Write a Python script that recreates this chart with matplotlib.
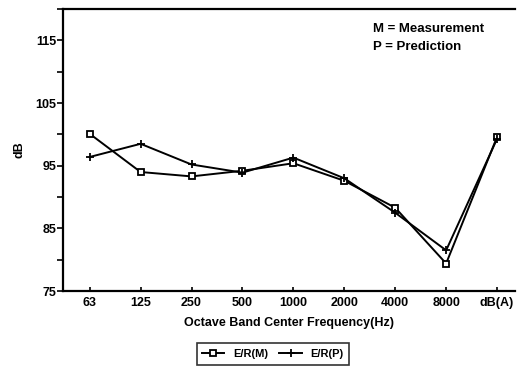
import matplotlib
matplotlib.use("Agg")
import matplotlib.pyplot as plt
from matplotlib.ticker import MultipleLocator

bands = ["63", "125", "250", "500", "1000", "2000", "4000", "8000", "dB(A)"]
er_measured = [100.1, 94.0, 93.3, 94.2, 95.4, 92.6, 88.3, 79.4, 99.6]
er_predicted = [96.4, 98.5, 95.2, 93.9, 96.3, 93.0, 87.5, 81.5, 99.3]

plt.rcParams["font.family"] = ["Liberation Sans", "DejaVu Sans"]
plt.rcParams["font.weight"] = "bold"

fig = plt.figure(figsize=(5.18, 3.79), dpi=100)
ax = fig.add_axes([0.122, 0.232, 0.872, 0.744])

x = list(range(len(bands)))
ax.plot(x, er_measured, color="black", linewidth=1.4, marker="s", markersize=4.5,
        markerfacecolor="white", markeredgecolor="black", markeredgewidth=1.3,
        label="E/R(M)")
ax.plot(x, er_predicted, color="black", linewidth=1.4, marker="+", markersize=6,
        markeredgewidth=1.3, label="E/R(P)")

ax.set_xlim(-0.52, 8.35)
ax.set_ylim(75, 120)
ax.set_xticks(x)
ax.set_xticklabels(bands)
ax.set_yticks([75, 85, 95, 105, 115])
ax.yaxis.set_minor_locator(MultipleLocator(5))
ax.tick_params(axis="y", which="both", direction="out", length=4, width=1.2,
               labelsize=9, pad=1)
ax.tick_params(axis="x", direction="in", length=3, width=1.2, labelsize=9, pad=4)

for side in ["left", "bottom", "top"]:
    ax.spines[side].set_linewidth(1.6)
ax.spines["right"].set_visible(False)

ax.set_ylabel("dB", fontsize=9, fontweight="bold", labelpad=7)
ax.set_xlabel("Octave Band Center Frequency(Hz)", fontsize=9, fontweight="bold",
              labelpad=6)

ax.text(0.685, 0.93, "M = Measurement", transform=ax.transAxes, fontsize=9.5,
        fontweight="bold", va="center")
ax.text(0.685, 0.865, "P = Prediction", transform=ax.transAxes, fontsize=9.5,
        fontweight="bold", va="center")

leg = fig.legend(loc="center", bbox_to_anchor=(0.527, 0.066), ncol=2, fontsize=8,
                 frameon=True, fancybox=False, edgecolor="black", handlelength=2.0,
                 columnspacing=1.0, borderpad=0.5)
leg.get_frame().set_linewidth(1.2)

fig.savefig("out.png", dpi=100)
